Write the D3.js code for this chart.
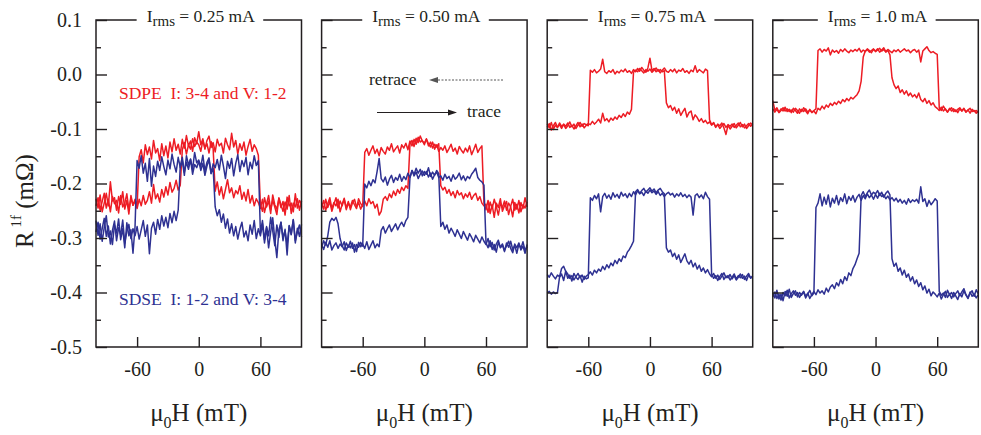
<!doctype html>
<html lang="en">
<head>
<meta charset="UTF-8">
<title>R1f vs field, four currents</title>
<style>
  body { margin: 0; background: #fff; }
  svg { display: block; background: #fff; font-family: "Liberation Serif", "Times New Roman", serif; }
  .frame { fill: none; stroke: #231f20; stroke-width: 1.5px; }
  .tick line { stroke: #231f20; stroke-width: 1.4px; }
  .tick text { fill: #231f20; font-size: 20px; font-family: "Liberation Serif", "Times New Roman", serif; }
  .curve { fill: none; stroke-width: 1.5px; stroke-linejoin: round; }
  .label { fill: #231f20; }
  .note { white-space: pre; font-size: 17.5px; }
</style>
</head>
<body>
<svg width="981" height="435"></svg>
<script src="https://cdn.jsdelivr.net/npm/d3@7"></script>
<script>
// field sweep points (mT)
const fieldMT = [
  -100, -98, -96, -94, -92, -90, -88, -86, -84, -82,
  -80, -78, -76, -74, -72, -70, -68, -66, -64, -62,
  -60, -58, -56, -54, -52, -50, -48, -46, -44, -42,
  -40, -38, -36, -34, -32, -30, -28, -26, -24, -22,
  -20, -18, -16, -14, -12, -10, -8, -6, -4, -2,
  0, 2, 4, 6, 8, 10, 12, 14, 16, 18,
  20, 22, 24, 26, 28, 30, 32, 34, 36, 38,
  40, 42, 44, 46, 48, 50, 52, 54, 56, 58,
  60, 62, 64, 66, 68, 70, 72, 74, 76, 78,
  80, 82, 84, 86, 88, 90, 92, 94, 96, 98, 100
];

// R1f in mOhm, I = 0.25 mA
const sdpeOuter025 = [
  -0.228, -0.245, -0.221, -0.252, -0.236, -0.218, -0.241, -0.197, -0.232, -0.226,
  -0.249, -0.224, -0.238, -0.215, -0.247, -0.231, -0.256, -0.222, -0.240, -0.229,
  -0.243, -0.151, -0.138, -0.162, -0.129, -0.147, -0.133, -0.155, -0.121, -0.144,
  -0.136, -0.158, -0.127, -0.149, -0.131, -0.153, -0.124, -0.142, -0.118, -0.139,
  -0.128, -0.146, -0.119, -0.135, -0.112, -0.131, -0.122, -0.141, -0.116, -0.127,
  -0.105, -0.129, -0.118, -0.137, -0.121, -0.113, -0.134, -0.125, -0.142, -0.119,
  -0.131, -0.126, -0.144, -0.117, -0.129, -0.138, -0.108, -0.133, -0.121, -0.146,
  -0.127, -0.139, -0.124, -0.148, -0.132, -0.119, -0.141, -0.129, -0.136, -0.148,
  -0.238, -0.251, -0.226, -0.243, -0.232, -0.255, -0.221, -0.239, -0.247, -0.228,
  -0.244, -0.233, -0.258, -0.225, -0.241, -0.236, -0.252, -0.219, -0.245, -0.231, -0.238
];
const sdpeInner025 = [
  -0.241, -0.226, -0.249, -0.233, -0.218, -0.245, -0.229, -0.252, -0.224, -0.237,
  -0.231, -0.254, -0.222, -0.243, -0.236, -0.219, -0.248, -0.227, -0.240, -0.233,
  -0.246, -0.229, -0.241, -0.222, -0.238, -0.231, -0.215, -0.236, -0.202, -0.228,
  -0.219, -0.234, -0.211, -0.225, -0.206, -0.221, -0.198, -0.216, -0.209, -0.194,
  -0.212, -0.203, -0.138, -0.125, -0.146, -0.129, -0.137, -0.118, -0.132, -0.124,
  -0.129, -0.141, -0.121, -0.135, -0.127, -0.144, -0.123, -0.136, -0.214, -0.197,
  -0.221, -0.206, -0.228, -0.211, -0.193, -0.217, -0.208, -0.226, -0.213, -0.219,
  -0.204, -0.229, -0.216, -0.232, -0.211, -0.236, -0.222, -0.241, -0.228, -0.235,
  -0.246, -0.229, -0.253, -0.237, -0.222, -0.248, -0.231, -0.243, -0.257, -0.226,
  -0.239, -0.251, -0.234, -0.247, -0.222, -0.255, -0.236, -0.243, -0.228, -0.249, -0.232
];
const sdseOuter025 = [
  -0.268, -0.295, -0.274, -0.306, -0.281, -0.259, -0.298, -0.287, -0.312, -0.276,
  -0.291, -0.265, -0.303, -0.283, -0.318, -0.272, -0.296, -0.285, -0.328, -0.279,
  -0.158, -0.172, -0.149, -0.181, -0.163, -0.196, -0.154, -0.205, -0.168, -0.187,
  -0.159, -0.176, -0.151, -0.169, -0.184, -0.157, -0.173, -0.146, -0.165, -0.179,
  -0.152, -0.171, -0.158, -0.185, -0.149, -0.166, -0.155, -0.174, -0.143, -0.162,
  -0.157, -0.169, -0.148, -0.177, -0.161, -0.153, -0.182, -0.164, -0.171, -0.156,
  -0.175, -0.148, -0.168, -0.191, -0.159, -0.172, -0.154, -0.186, -0.163, -0.147,
  -0.178, -0.158, -0.169, -0.152, -0.184, -0.161, -0.173, -0.149, -0.167, -0.158,
  -0.291, -0.268, -0.303, -0.279, -0.296, -0.262, -0.287, -0.314, -0.276, -0.299,
  -0.271, -0.305, -0.284, -0.331, -0.277, -0.293, -0.266, -0.309, -0.282, -0.297, -0.275
];
const sdseInner025 = [
  -0.289, -0.271, -0.302, -0.283, -0.264, -0.297, -0.278, -0.311, -0.286, -0.269,
  -0.305, -0.281, -0.294, -0.267, -0.309, -0.288, -0.275, -0.301, -0.283, -0.296,
  -0.279, -0.302, -0.285, -0.268, -0.297, -0.276, -0.329, -0.282, -0.271, -0.293,
  -0.266, -0.284, -0.259, -0.278, -0.262, -0.281, -0.255, -0.272, -0.251, -0.268,
  -0.249, -0.168, -0.152, -0.179, -0.161, -0.174, -0.156, -0.183, -0.165, -0.171,
  -0.159, -0.176, -0.163, -0.185, -0.168, -0.157, -0.181, -0.172, -0.243, -0.259,
  -0.248, -0.271, -0.256, -0.282, -0.265, -0.291, -0.274, -0.296, -0.279, -0.302,
  -0.284, -0.271, -0.298, -0.287, -0.305, -0.276, -0.293, -0.268, -0.301, -0.283,
  -0.296, -0.274, -0.309, -0.281, -0.318, -0.289, -0.263, -0.302, -0.336, -0.285,
  -0.271, -0.299, -0.287, -0.312, -0.278, -0.294, -0.267, -0.305, -0.289, -0.276, -0.298
];

// I = 0.50 mA
const sdpeOuter050 = [
  -0.236, -0.247, -0.229, -0.244, -0.233, -0.251, -0.238, -0.226, -0.245, -0.232,
  -0.241, -0.229, -0.248, -0.236, -0.243, -0.231, -0.239, -0.246, -0.228, -0.237,
  -0.242, -0.143, -0.136, -0.148, -0.139, -0.131, -0.145, -0.137, -0.149, -0.134,
  -0.141, -0.146, -0.133, -0.139, -0.127, -0.142, -0.136, -0.131, -0.144, -0.129,
  -0.135, -0.126, -0.138, -0.122, -0.131, -0.119, -0.128, -0.115, -0.124, -0.121,
  -0.129, -0.118, -0.127, -0.133, -0.124, -0.137, -0.129, -0.141, -0.134, -0.139,
  -0.131, -0.143, -0.136, -0.128, -0.141, -0.135, -0.146, -0.132, -0.139, -0.144,
  -0.135, -0.142, -0.131, -0.147, -0.138, -0.128, -0.143, -0.136, -0.131, -0.236,
  -0.248, -0.231, -0.255, -0.239, -0.262, -0.236, -0.244, -0.228, -0.251, -0.241,
  -0.233, -0.257, -0.242, -0.229, -0.249, -0.238, -0.254, -0.235, -0.246, -0.226, -0.243
];
const sdpeInner050 = [
  -0.244, -0.231, -0.249, -0.237, -0.226, -0.246, -0.235, -0.241, -0.229, -0.252,
  -0.238, -0.227, -0.245, -0.233, -0.248, -0.236, -0.229, -0.243, -0.235, -0.247,
  -0.239, -0.232, -0.241, -0.228, -0.237, -0.233, -0.245, -0.238, -0.258, -0.251,
  -0.229, -0.224, -0.231, -0.219, -0.226, -0.214, -0.222, -0.211, -0.218, -0.207,
  -0.213, -0.204, -0.209, -0.128, -0.121, -0.132, -0.117, -0.125, -0.113, -0.122,
  -0.126, -0.119, -0.131, -0.124, -0.135, -0.128, -0.133, -0.127, -0.204, -0.212,
  -0.207, -0.218, -0.211, -0.222, -0.215, -0.226, -0.213, -0.221, -0.217, -0.228,
  -0.219, -0.225, -0.216, -0.229, -0.222, -0.218, -0.231, -0.224, -0.236, -0.241,
  -0.238, -0.253, -0.234, -0.246, -0.229, -0.242, -0.258, -0.237, -0.244, -0.232,
  -0.249, -0.236, -0.243, -0.261, -0.235, -0.247, -0.231, -0.252, -0.239, -0.245, -0.234
];
const sdseOuter050 = [
  -0.312, -0.321, -0.308, -0.317, -0.305, -0.322, -0.314, -0.309, -0.319, -0.311,
  -0.316, -0.307, -0.323, -0.313, -0.318, -0.309, -0.326, -0.312, -0.317, -0.308,
  -0.315, -0.201, -0.208, -0.196, -0.204, -0.193, -0.199, -0.178, -0.154, -0.191,
  -0.197, -0.188, -0.203, -0.192, -0.185, -0.198, -0.189, -0.194, -0.183, -0.196,
  -0.187, -0.193, -0.181, -0.189, -0.176, -0.186, -0.179, -0.191, -0.183, -0.177,
  -0.185, -0.178, -0.188, -0.181, -0.192, -0.184, -0.179, -0.189, -0.186, -0.194,
  -0.183, -0.191, -0.187, -0.196, -0.184, -0.192, -0.188, -0.181, -0.193, -0.186,
  -0.195, -0.187, -0.191, -0.183, -0.178, -0.172, -0.189, -0.194, -0.197, -0.203,
  -0.309, -0.318, -0.305, -0.321, -0.312, -0.326, -0.308, -0.317, -0.311, -0.323,
  -0.314, -0.306, -0.319, -0.327, -0.311, -0.318, -0.309, -0.322, -0.315, -0.328, -0.312
];
const sdseInner050 = [
  -0.318, -0.305, -0.313, -0.296, -0.271, -0.264, -0.268, -0.262, -0.274, -0.301,
  -0.314, -0.322, -0.309, -0.317, -0.306, -0.319, -0.312, -0.325, -0.308, -0.316,
  -0.311, -0.319, -0.307, -0.321, -0.313, -0.305, -0.318, -0.311, -0.316, -0.286,
  -0.279, -0.291, -0.283, -0.276, -0.288, -0.281, -0.274, -0.285, -0.277, -0.271,
  -0.279, -0.268, -0.262, -0.189, -0.176, -0.184, -0.172, -0.181, -0.174, -0.186,
  -0.178, -0.183, -0.171, -0.187, -0.179, -0.185, -0.176, -0.182, -0.279, -0.271,
  -0.284, -0.276, -0.291, -0.282, -0.289, -0.297, -0.285, -0.293, -0.301, -0.288,
  -0.296, -0.304, -0.292, -0.299, -0.307, -0.295, -0.302, -0.309, -0.298, -0.306,
  -0.312, -0.301, -0.316, -0.308, -0.322, -0.311, -0.304, -0.318, -0.313, -0.325,
  -0.309, -0.317, -0.306, -0.321, -0.314, -0.328, -0.311, -0.319, -0.307, -0.323, -0.316
];

// I = 0.75 mA
const sdpeOuter075 = [
  -0.091, -0.098, -0.088, -0.101, -0.093, -0.097, -0.089, -0.095, -0.092, -0.099,
  -0.094, -0.087, -0.096, -0.091, -0.099, -0.093, -0.088, -0.095, -0.090, -0.092,
  -0.094, 0.008, 0.004, 0.009, 0.003, 0.006, 0.010, 0.028, 0.005, 0.002,
  0.007, 0.004, 0.009, 0.001, 0.006, 0.003, 0.008, 0.005, 0.010, 0.004,
  0.007, 0.002, 0.009, 0.005, 0.011, 0.006, 0.013, 0.008, 0.004, 0.012,
  0.030, 0.007, 0.011, 0.005, 0.009, 0.003, 0.008, 0.012, 0.006, 0.004,
  0.009, 0.005, 0.010, 0.003, 0.008, 0.006, 0.011, 0.004, 0.007, 0.002,
  0.008, 0.005, 0.016, 0.004, 0.009, 0.006, 0.003, 0.010, 0.007, -0.083,
  -0.092, -0.088, -0.097, -0.091, -0.094, -0.089, -0.098, -0.110, -0.093, -0.100,
  -0.095, -0.090, -0.098, -0.093, -0.088, -0.096, -0.091, -0.099, -0.094, -0.089, -0.093
];
const sdpeInner075 = [
  -0.096, -0.090, -0.102, -0.094, -0.088, -0.097, -0.092, -0.099, -0.091, -0.095,
  -0.089, -0.097, -0.093, -0.100, -0.094, -0.088, -0.096, -0.091, -0.098, -0.093,
  -0.090, -0.092, -0.086, -0.091, -0.087, -0.082, -0.089, -0.071, -0.085, -0.081,
  -0.087, -0.080, -0.084, -0.078, -0.082, -0.075, -0.079, -0.072, -0.077, -0.069,
  -0.073, -0.064, 0.004, 0.008, 0.005, 0.011, 0.007, 0.003, 0.009, 0.006,
  0.010, 0.004, 0.008, 0.012, 0.006, 0.009, 0.005, 0.007, -0.052, -0.061,
  -0.057, -0.066, -0.060, -0.071, -0.063, -0.075, -0.068, -0.062, -0.078, -0.070,
  -0.067, -0.083, -0.074, -0.079, -0.086, -0.081, -0.088, -0.084, -0.090, -0.087,
  -0.093, -0.089, -0.096, -0.092, -0.099, -0.094, -0.090, -0.097, -0.092, -0.095,
  -0.091, -0.097, -0.093, -0.089, -0.096, -0.092, -0.098, -0.094, -0.090, -0.095, -0.092
];
const sdseOuter075 = [
  -0.401, -0.398, -0.403, -0.399, -0.402, -0.400, -0.372, -0.366, -0.378, -0.361,
  -0.374, -0.368, -0.379, -0.365, -0.372, -0.376, -0.369, -0.381, -0.370, -0.375,
  -0.373, -0.226, -0.231, -0.222, -0.228, -0.219, -0.252, -0.224, -0.218, -0.227,
  -0.221, -0.229, -0.217, -0.225, -0.220, -0.227, -0.216, -0.223, -0.219, -0.226,
  -0.218, -0.224, -0.215, -0.221, -0.213, -0.219, -0.216, -0.222, -0.214, -0.218,
  -0.212, -0.217, -0.214, -0.220, -0.215, -0.222, -0.218, -0.224, -0.219, -0.216,
  -0.221, -0.218, -0.225, -0.219, -0.223, -0.217, -0.224, -0.220, -0.226, -0.221,
  -0.225, -0.258, -0.222, -0.219, -0.226, -0.221, -0.228, -0.216, -0.224, -0.229,
  -0.366, -0.374, -0.369, -0.378, -0.371, -0.365, -0.376, -0.370, -0.373, -0.367,
  -0.375, -0.369, -0.377, -0.372, -0.366, -0.374, -0.370, -0.378, -0.368, -0.373, -0.371
];
const sdseInner075 = [
  -0.367, -0.372, -0.364, -0.370, -0.375, -0.368, -0.371, -0.356, -0.352, -0.361,
  -0.366, -0.374, -0.369, -0.377, -0.371, -0.365, -0.373, -0.368, -0.376, -0.370,
  -0.367, -0.362, -0.368, -0.359, -0.364, -0.357, -0.361, -0.352, -0.358, -0.349,
  -0.355, -0.346, -0.351, -0.341, -0.347, -0.338, -0.343, -0.333, -0.336, -0.326,
  -0.321, -0.314, -0.306, -0.215, -0.211, -0.218, -0.213, -0.209, -0.216, -0.212,
  -0.208, -0.214, -0.210, -0.217, -0.212, -0.209, -0.215, -0.219, -0.318, -0.326,
  -0.322, -0.334, -0.328, -0.339, -0.331, -0.345, -0.337, -0.329, -0.342, -0.348,
  -0.341, -0.353, -0.346, -0.357, -0.350, -0.361, -0.355, -0.364, -0.358, -0.366,
  -0.371, -0.365, -0.374, -0.368, -0.376, -0.370, -0.364, -0.373, -0.369, -0.377,
  -0.372, -0.366, -0.375, -0.369, -0.373, -0.367, -0.376, -0.370, -0.365, -0.374, -0.369
];

// I = 1.0 mA
const sdpeOuter100 = [
  -0.048, -0.066, -0.061, -0.069, -0.063, -0.067, -0.060, -0.068, -0.064, -0.070,
  -0.062, -0.066, -0.071, -0.063, -0.068, -0.061, -0.067, -0.072, -0.064, -0.069,
  -0.066, -0.063, 0.044, 0.047, 0.041, 0.046, 0.043, 0.049, 0.036, 0.045,
  0.041, 0.044, 0.039, 0.046, 0.042, 0.047, 0.043, 0.040, 0.045, 0.042,
  0.046, 0.043, 0.048, 0.041, 0.045, 0.042, 0.047, 0.044, 0.040, 0.046,
  0.043, 0.047, 0.041, 0.045, 0.049, 0.042, 0.046, 0.043, 0.040, 0.045,
  0.042, 0.046, 0.041, 0.044, 0.047, 0.043, 0.045, 0.040, 0.044, 0.046,
  0.041, 0.045, 0.023, 0.043, 0.047, 0.051, 0.044, 0.040, 0.042, 0.039,
  0.037, -0.061, -0.066, -0.058, -0.064, -0.069, -0.062, -0.067, -0.063, -0.068,
  -0.064, -0.061, -0.067, -0.063, -0.069, -0.065, -0.062, -0.068, -0.066, -0.071, -0.067
];
const sdpeInner100 = [
  -0.063, -0.069, -0.064, -0.070, -0.066, -0.061, -0.067, -0.063, -0.068, -0.065,
  -0.069, -0.062, -0.066, -0.071, -0.064, -0.068, -0.063, -0.069, -0.065, -0.070,
  -0.067, -0.072, -0.062, -0.065, -0.058, -0.063, -0.056, -0.060, -0.053, -0.057,
  -0.051, -0.055, -0.049, -0.053, -0.046, -0.050, -0.044, -0.048, -0.042, -0.045,
  -0.041, -0.037, -0.030, -0.012, 0.032, 0.043, 0.046, 0.041, 0.044, 0.047,
  0.042, 0.045, 0.048, 0.043, 0.046, 0.041, 0.044, 0.036, -0.006, -0.019,
  -0.026, -0.021, -0.033, -0.028, -0.036, -0.030, -0.039, -0.034, -0.041, -0.037,
  -0.043, -0.034, -0.046, -0.050, -0.044, -0.053, -0.048, -0.056, -0.052, -0.059,
  -0.062, -0.066, -0.060, -0.067, -0.063, -0.069, -0.064, -0.061, -0.068, -0.065,
  -0.070, -0.063, -0.067, -0.062, -0.069, -0.065, -0.071, -0.064, -0.068, -0.066, -0.070
];
const sdseOuter100 = [
  -0.401, -0.410, -0.396, -0.412, -0.403, -0.415, -0.398, -0.407, -0.394, -0.409,
  -0.402, -0.397, -0.408, -0.400, -0.405, -0.399, -0.410, -0.403, -0.396, -0.406,
  -0.401, -0.244, -0.236, -0.219, -0.241, -0.225, -0.238, -0.221, -0.243, -0.227,
  -0.236, -0.222, -0.239, -0.226, -0.233, -0.219, -0.237, -0.224, -0.231, -0.222,
  -0.234, -0.225, -0.220, -0.231, -0.222, -0.228, -0.219, -0.226, -0.221, -0.229,
  -0.220, -0.227, -0.218, -0.224, -0.221, -0.228, -0.223, -0.230, -0.226, -0.232,
  -0.227, -0.234, -0.229, -0.236, -0.231, -0.238, -0.228, -0.235, -0.230, -0.233,
  -0.229, -0.236, -0.206, -0.233, -0.228, -0.242, -0.231, -0.239, -0.234, -0.228,
  -0.232, -0.398, -0.405, -0.401, -0.409, -0.396, -0.404, -0.400, -0.408, -0.402,
  -0.397, -0.406, -0.399, -0.393, -0.404, -0.410, -0.401, -0.397, -0.407, -0.395, -0.403
];
const sdseInner100 = [
  -0.408, -0.399, -0.411, -0.403, -0.414, -0.400, -0.406, -0.396, -0.410, -0.402,
  -0.397, -0.405, -0.400, -0.409, -0.403, -0.398, -0.407, -0.401, -0.411, -0.404,
  -0.398, -0.404, -0.395, -0.401, -0.397, -0.403, -0.392, -0.399, -0.390, -0.386,
  -0.393, -0.382, -0.388, -0.376, -0.384, -0.371, -0.378, -0.364, -0.369, -0.356,
  -0.349, -0.338, -0.328, -0.222, -0.215, -0.224, -0.217, -0.212, -0.221, -0.216,
  -0.219, -0.213, -0.222, -0.216, -0.225, -0.218, -0.214, -0.221, -0.338, -0.352,
  -0.346, -0.361, -0.355, -0.368, -0.359, -0.372, -0.366, -0.379, -0.371, -0.384,
  -0.377, -0.389, -0.382, -0.395, -0.388, -0.401, -0.394, -0.406, -0.399, -0.403,
  -0.408, -0.401, -0.412, -0.404, -0.398, -0.409, -0.403, -0.411, -0.400, -0.406,
  -0.413, -0.402, -0.408, -0.397, -0.405, -0.411, -0.399, -0.407, -0.403, -0.410, -0.404
];

const currents = ["0.25", "0.50", "0.75", "1.0"];
const yMajorTicks = [0.1, 0.0, -0.1, -0.2, -0.3, -0.4, -0.5];
const yTickLabels = ["0.1", "0.0", "-0.1", "-0.2", "-0.3", "-0.4", "-0.5"];
const yMinorTicks = [0.05, -0.05, -0.15, -0.25, -0.35, -0.45];
const xTicks = [-60, 0, 60];
const xTickLabels = ["-60", "0", "60"];

const panels = [
    {current: currents[0], red: [sdpeOuter025, sdpeInner025], blue: [sdseOuter025, sdseInner025]},
    {current: currents[1], red: [sdpeOuter050, sdpeInner050], blue: [sdseOuter050, sdseInner050]},
    {current: currents[2], red: [sdpeOuter075, sdpeInner075], blue: [sdseOuter075, sdseInner075]},
    {current: currents[3], red: [sdpeOuter100, sdpeInner100], blue: [sdseOuter100, sdseInner100]}
];

const RED = "#ed1c24", BLUE = "#2e3192", INK = "#231f20";

const svg = d3.select("svg"),
    firstLeft = 96, step = 225.6, panelW = 205.5,
    plotTop = 20, plotBottom = 347;

const y = d3.scaleLinear().domain([-0.5, 0.1]).range([plotBottom, plotTop]);

panels.forEach((p, k) => {
    const left = firstLeft + k * step, right = left + panelW, cx = (left + right) / 2;
    const x = d3.scaleLinear().domain([-100, 100]).range([left, right]);
    const line = d3.line().x((d, i) => x(fieldMT[i])).y(d => y(d));
    const g = svg.append("g");

    p.red.forEach(vals => g.append("path").datum(vals).attr("class", "curve").attr("stroke", RED).attr("d", line));
    p.blue.forEach(vals => g.append("path").datum(vals).attr("class", "curve").attr("stroke", BLUE).attr("d", line));

    // ticks pointing inward
    g.append("g").attr("transform", "translate(" + left + ",0)")
        .call(d3.axisLeft(y).tickValues(yMinorTicks).tickSizeInner(-5).tickSizeOuter(0).tickFormat(""))
        .call(a => a.select(".domain").remove());
    g.append("g").attr("transform", "translate(" + left + ",0)")
        .call(d3.axisLeft(y).tickValues(yMajorTicks).tickSizeInner(-11).tickSizeOuter(0).tickPadding(14)
            .tickFormat((d, i) => k === 0 ? yTickLabels[i] : ""))
        .call(a => a.select(".domain").remove());
    g.append("g").attr("transform", "translate(0," + plotBottom + ")")
        .call(d3.axisBottom(x).tickValues(xTicks).tickSizeInner(-10).tickSizeOuter(0).tickPadding(15)
            .tickFormat((d, i) => xTickLabels[i]))
        .call(a => a.select(".domain").remove());

    // current label sitting in the top border
    const title = g.append("text").attr("class", "label")
        .attr("x", cx + 2).attr("y", 22).attr("text-anchor", "middle").style("font-size", "17.5px");
    title.append("tspan").text("I");
    title.append("tspan").attr("dy", 4).style("font-size", "15px").text("rms");
    title.append("tspan").attr("dy", -4).text(" = " + p.current + " mA");
    const bb = title.node().getBBox();
    const gapL = bb.x - 10, gapR = bb.x + bb.width + 8;

    g.append("path").attr("class", "frame")
        .attr("d", "M" + gapR + "," + plotTop + "H" + right + "V" + plotBottom + "H" + left + "V" + plotTop + "H" + gapL);

    const xl = g.append("text").attr("class", "label")
        .attr("x", cx).attr("y", 421).attr("text-anchor", "middle").style("font-size", "25px");
    xl.append("tspan").text("\u03bc");
    xl.append("tspan").attr("dy", 7).style("font-size", "16px").text("0");
    xl.append("tspan").attr("dy", -7).text("H (mT)");
});

// y label
const yl = svg.append("text").attr("class", "label")
    .attr("transform", "translate(33,201) rotate(-90)")
    .attr("text-anchor", "middle").style("font-size", "25px");
yl.append("tspan").text("R");
yl.append("tspan").attr("dy", -12).style("font-size", "15px").text(" 1f");
yl.append("tspan").attr("dy", 12).text(" (m\u03a9)");

// configuration notes in first panel
svg.append("text").attr("class", "note").attr("x", 119).attr("y", 99).attr("fill", RED)
    .text("SDPE  I: 3-4 and V: 1-2");
svg.append("text").attr("class", "note").attr("x", 119).attr("y", 305).attr("fill", BLUE)
    .text("SDSE  I: 1-2 and V: 3-4");

// sweep direction key in second panel
svg.append("text").attr("class", "label note").attr("x", 369).attr("y", 85).text("retrace");
svg.append("line").attr("x1", 503).attr("y1", 80).attr("x2", 436).attr("y2", 80)
    .attr("stroke", "#555").attr("stroke-width", 1).attr("stroke-dasharray", "2,1.5");
svg.append("path").attr("d", "M429,80L438,77L438,83Z").attr("fill", "#555");
svg.append("text").attr("class", "label note").attr("x", 467).attr("y", 117).text("trace");
svg.append("line").attr("x1", 377).attr("y1", 112.5).attr("x2", 450).attr("y2", 112.5)
    .attr("stroke", INK).attr("stroke-width", 1);
svg.append("path").attr("d", "M457,112.5L448,109.5L448,115.5Z").attr("fill", INK);
</script>
</body>
</html>
